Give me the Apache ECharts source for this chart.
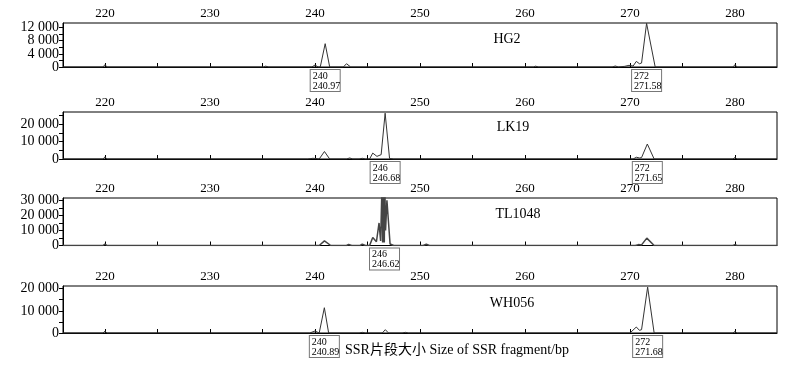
<!DOCTYPE html>
<html>
<head>
<meta charset="utf-8">
<script src="https://cdn.jsdelivr.net/npm/echarts@6/dist/echarts.min.js"></script>
<style>
html,body{margin:0;padding:0;background:#fff;}
#chart{width:787px;height:370px;}
</style>
</head>
<body>
<div id="chart"></div>
<script>
// ---- data ----
var panelNames = ['HG2', 'LK19', 'TL1048', 'WH056'];

var hg2Size  = [216, 219.8, 220, 220.2, 235.1, 235.3, 235.6, 239.7, 240.0, 240.3, 240.5, 240.97, 241.4, 242.7, 243.0, 243.4, 260.8, 261.0, 261.3, 268.3, 268.6, 268.9, 269.5, 269.9, 270.3, 270.6, 270.9, 271.1, 271.58, 272.4, 279.8, 280.0, 280.2, 284];
var hg2Value = [0, 0, 700, 0, 0, 250, 0, 0, 600, 0, 0, 7100, 0, 0, 1000, 0, 0, 250, 0, 0, 300, 0, 200, 500, 300, 1700, 1000, 1200, 13300, 0, 0, 700, 0, 0];

var lk19Size  = [216, 219.8, 220, 220.2, 239.3, 239.8, 240.2, 240.4, 240.9, 241.4, 243.0, 243.3, 243.6, 244.2, 244.5, 244.8, 245.2, 245.5, 245.9, 246.3, 246.68, 247.1, 247.5, 270.3, 270.6, 270.9, 271.1, 271.65, 272.3, 279.8, 280.0, 280.2, 284];
var lk19Value = [0, 0, 1200, 0, 0, 400, 200, 0, 4300, 0, 0, 600, 0, 0, 400, 0, 0, 3400, 1500, 2500, 26300, 300, 0, 0, 1000, 600, 800, 8600, 0, 0, 900, 0, 0];

var tl1048Size  = [216, 219.8, 220, 220.2, 240.4, 240.9, 241.5, 243.0, 243.2, 243.5, 244.3, 244.5, 244.8, 245.2, 245.5, 245.85, 246.1, 246.25, 246.38, 246.44, 246.48, 246.52, 246.56, 246.6, 246.65, 246.72, 246.85, 247.15, 247.5, 250.3, 250.6, 250.9, 270.5, 270.8, 271.1, 271.6, 272.3, 279.8, 280.0, 280.2, 284];
var tl1048Value = [0, 0, 1000, 0, 0, 3100, 0, 0, 700, 0, 0, 900, 0, 0, 5300, 2500, 15000, 3000, 40000, 2000, 40000, 2000, 40000, 2000, 40000, 10000, 30000, 1000, 0, 0, 800, 0, 0, 600, 400, 4900, 0, 0, 600, 0, 0];

var wh056Size  = [216, 219.8, 220, 220.2, 239.5, 240.0, 240.4, 240.89, 241.3, 244.2, 244.5, 244.8, 246.4, 246.7, 247.0, 248.3, 248.6, 248.9, 270.0, 270.6, 270.9, 271.1, 271.68, 272.3, 279.8, 280.0, 280.2, 284];
var wh056Value = [0, 0, 800, 0, 0, 900, 0, 11400, 0, 0, 300, 0, 0, 1500, 0, 0, 300, 0, 0, 2700, 1200, 1500, 20700, 0, 0, 700, 0, 0];

// allele calls (label, size)
var hg2Calls = [240, 272],     hg2CallSizes = [240.97, 271.58];
var lk19Calls = [246, 272],    lk19CallSizes = [246.68, 271.65];
var tl1048Calls = [246],       tl1048CallSizes = [246.62];
var wh056Calls = [240, 272],   wh056CallSizes = [240.89, 271.68];

// axis ticks
var xLabels = [220, 230, 240, 250, 260, 270, 280];
var xTicks = [220, 225, 230, 235, 240, 245, 250, 255, 260, 265, 270, 275, 280];
var hg2YLabels = [0, 4000, 8000, 12000];
var hg2YTicks = [0, 2000, 4000, 6000, 8000, 10000, 12000];
var lk19YLabels = [0, 10000, 20000];
var lk19YTicks = [0, 5000, 10000, 15000, 20000, 25000];
var tl1048YLabels = [0, 10000, 20000, 30000];
var tl1048YTicks = [0, 5000, 10000, 15000, 20000, 25000, 30000];
var wh056YLabels = [0, 10000, 20000];
var wh056YTicks = [0, 5000, 10000, 15000, 20000];
var yMaxes = [13400, 27000, 31600, 21200];

var xTitle = 'SSR片段大小 Size of SSR fragment/bp';

// ---- build ----
var FONT = "'Liberation Serif', 'Times New Roman', 'Noto Sans CJK SC', serif";
var sizes = [hg2Size, lk19Size, tl1048Size, wh056Size];
var values = [hg2Value, lk19Value, tl1048Value, wh056Value];
var calls = [hg2Calls, lk19Calls, tl1048Calls, wh056Calls];
var callSizes = [hg2CallSizes, lk19CallSizes, tl1048CallSizes, wh056CallSizes];
var yLabels = [hg2YLabels, lk19YLabels, tl1048YLabels, wh056YLabels];
var yTicks = [hg2YTicks, lk19YTicks, tl1048YTicks, wh056YTicks];

var gridTops = [23, 112, 198, 286];
var gridHeights = [44, 47, 47.5, 47];
var nameCenters = [[507, 39], [513, 127], [518, 214], [512, 303]];
var GRID_LEFT = 63;

function fmt(v) {
  return String(v).replace(/\B(?=(\d{3})+(?!\d))/g, ' ');
}

var grids = [], xAxes = [], yAxes = [], series = [], graphics = [];
for (var i = 0; i < 4; i++) {
  grids.push({left: GRID_LEFT, right: 10, top: gridTops[i], height: gridHeights[i],
    show: true, borderColor: '#000', borderWidth: 1, backgroundColor: 'transparent'});
  xAxes.push({
    type: 'value', gridIndex: i, position: 'top', min: 216, max: 284,
    axisLine: {show: true, lineStyle: {color: '#000', width: 1}},
    axisTick: {show: true, customValues: xTicks, length: 4, lineStyle: {color: '#000'}},
    axisLabel: {show: true, customValues: xLabels, margin: 3, color: '#000', fontFamily: FONT, fontSize: 13, hideOverlap: false},
    splitLine: {show: false}
  });
  yAxes.push({
    type: 'value', gridIndex: i, min: 0, max: yMaxes[i],
    axisLine: {show: true, lineStyle: {color: '#000', width: 1}},
    axisTick: {show: true, customValues: yTicks[i], length: 4, lineStyle: {color: '#000'}},
    // panel 1 labels are too tightly spaced for the built-in layout; drawn below from the axis scale
    axisLabel: {show: i !== 0, customValues: yLabels[i], showMinLabel: true, showMaxLabel: true, hideOverlap: false,
      margin: 4, color: '#000', fontFamily: FONT, fontSize: 14, lineHeight: 11,
      formatter: function (v) { return fmt(v); }},
    splitLine: {show: false}
  });
  var data = sizes[i].map(function (s, k) { return [s, values[i][k]]; });
  var mp = calls[i].map(function (c, k) {
    return {
      coord: [callSizes[i][k], 0],
      value: c,
      label: {formatter: '{a|' + c + '}\n{a|' + callSizes[i][k].toFixed(2) + '}'}
    };
  });
  series.push({
    type: 'line', xAxisIndex: i, yAxisIndex: i, data: data,
    symbol: 'none', smooth: false, clip: true, animation: false,
    lineStyle: {color: i === 2 ? '#444' : '#333', width: i === 2 ? 1.5 : 1},
    markPoint: {
      symbol: 'rect', symbolSize: 0, animation: false,
      label: {
        show: true, position: 'bottom', distance: 3,
        backgroundColor: '#fff', borderColor: '#777', borderWidth: 1,
        padding: [1, 1, 0, 2],
        rich: {a: {fontFamily: FONT, fontSize: 10, lineHeight: 10, color: '#000', width: 26, align: 'left'}}
      },
      data: mp
    }
  });
  graphics.push({
    type: 'text', x: nameCenters[i][0], y: nameCenters[i][1],
    style: {text: panelNames[i], font: '14px ' + FONT, fill: '#000', textAlign: 'center', textVerticalAlign: 'middle'}
  });
}
graphics.push({
  type: 'text', x: 457, y: 350,
  style: {text: xTitle, font: '14px ' + FONT, fill: '#000', textAlign: 'center', textVerticalAlign: 'middle'}
});

var chart = echarts.init(document.getElementById('chart'), null, {renderer: 'canvas'});
chart.setOption({
  animation: false,
  backgroundColor: '#fff',
  grid: grids, xAxis: xAxes, yAxis: yAxes, series: series,
  graphic: graphics
});

// panel 1 y labels, positioned through the y axis scale
var extra = hg2YLabels.map(function (v) {
  var py = chart.convertToPixel({yAxisIndex: 0}, v);
  return {
    type: 'text', x: GRID_LEFT - 4, y: py,
    style: {text: fmt(v), font: '14px ' + FONT, fill: '#000', textAlign: 'right', textVerticalAlign: 'middle'}
  };
});
chart.setOption({graphic: graphics.concat(extra)});
</script>
</body>
</html>
